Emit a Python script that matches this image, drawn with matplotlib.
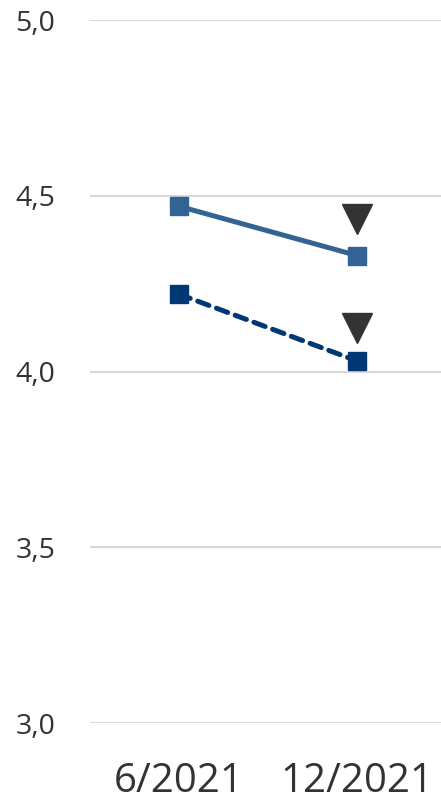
import matplotlib
matplotlib.use("Agg")
import matplotlib.pyplot as plt

plt.rcParams['font.family'] = ['Open Sans', 'DejaVu Sans']

# data
periods = ["6/2021", "12/2021"]
series_solid = [4.47, 4.33]
series_dashed = [4.22, 4.03]
# down-arrow markers above the latest values
arrow_solid = 4.435
arrow_dashed = 4.125
y_ticks = [3.0, 3.5, 4.0, 4.5, 5.0]
y_labels = ["3,0", "3,5", "4,0", "4,5", "5,0"]

fig = plt.figure(figsize=(4.41, 8.05), dpi=100)
ax = fig.add_axes([90 / 441, 82 / 805, 351 / 441, 703 / 805])

x = list(range(len(periods)))

ax.plot(x, series_solid, color="#336394", lw=3.6, marker="s", ms=13,
        solid_capstyle="round", zorder=3)
ax.plot(x, series_dashed, color="#003876", lw=3.6, ls=(0, (2.4, 1.6)),
        dash_capstyle="round", marker="s", ms=13, zorder=3)
ax.plot([x[-1]], [arrow_solid], marker="v", ms=22, color="#333333",
        ls="none", zorder=4)
ax.plot([x[-1]], [arrow_dashed], marker="v", ms=22, color="#333333",
        ls="none", zorder=4)

ax.set_xlim(-0.5, 1.472)
ax.set_ylim(3.0, 5.0)
ax.set_yticks(y_ticks)
ax.set_yticklabels(y_labels)
ax.set_xticks(x)
ax.set_xticklabels(periods)

ax.grid(axis="y", color="#d9d9d9", lw=1.5)
ax.set_axisbelow(True)
for s in ax.spines.values():
    s.set_visible(False)
ax.tick_params(axis="y", length=0, pad=25, labelsize=20.5, labelcolor="#333333")
ax.tick_params(axis="x", length=0, pad=28, labelsize=29, labelcolor="#333333")

fig.savefig("out.png", dpi=100)
